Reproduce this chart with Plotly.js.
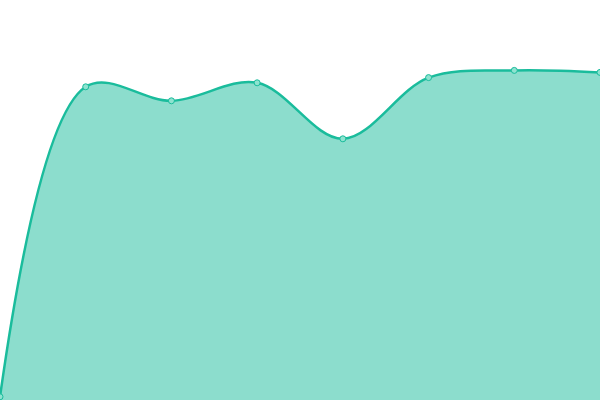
<!DOCTYPE html>
<html><head><meta charset="utf-8">
<script src="https://cdn.plot.ly/plotly-3.0.1.min.js"></script>
<style>html,body{margin:0;padding:0;background:#fff}#c{width:600px;height:400px}</style>
</head><body><div id="c"></div>
<script>
const xValues = [0, 1, 2, 3, 4, 5, 6, 7];
const yValues = [0.8, 78.3, 74.8, 79.3, 65.3, 80.6, 82.4, 81.9];

Plotly.newPlot('c', [{
  x: xValues, y: yValues,
  type: 'scatter', mode: 'lines+markers',
  fill: 'tozeroy', fillcolor: 'rgba(26,188,156,0.5)',
  line: {shape: 'spline', smoothing: 1, color: '#1abc9c', width: 2.5},
  marker: {size: 6, color: '#8ee3d0', line: {color: '#1abc9c', width: 1}},
  cliponaxis: false
}], {
  width: 600, height: 400,
  margin: {l: 0, r: 0, t: 0, b: 0},
  paper_bgcolor: '#fff', plot_bgcolor: '#fff',
  showlegend: false,
  xaxis: {range: [0, 7], visible: false, fixedrange: true},
  yaxis: {range: [0, 100], visible: false, fixedrange: true}
}, {displayModeBar: false, staticPlot: true});
</script></body></html>
